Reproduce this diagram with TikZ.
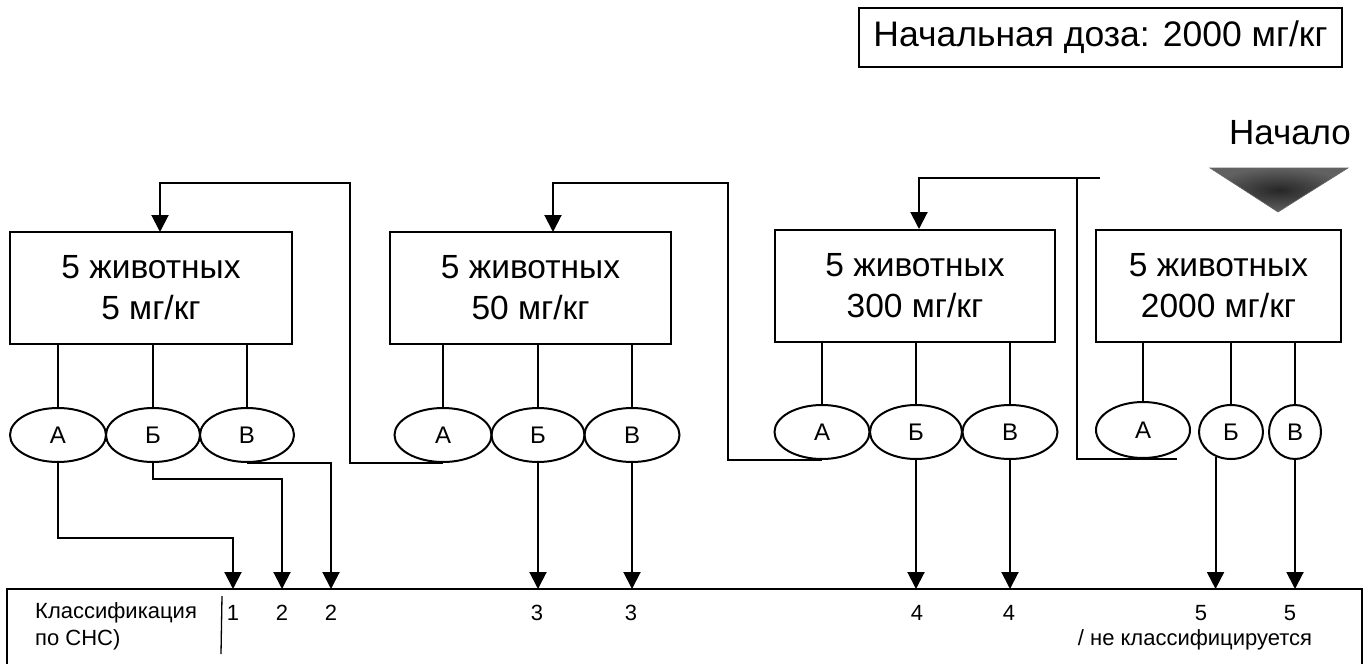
\documentclass[tikz,border=0pt]{standalone}
\usepackage{fontspec}
\setmainfont{Liberation Sans}
\usetikzlibrary{shapes.geometric,arrows.meta,calc}
\begin{document}
\begin{tikzpicture}[x=1pt,y=-1pt,
  ln/.style={line width=2pt, draw=black},
  arr/.style={ln, -{Triangle[width=17pt,length=17pt]}},
  dosebox/.style={draw, line width=2pt, minimum width=#1, minimum height=112pt, inner sep=0pt, align=center, font=\fontsize{33.5}{41}\selectfont},
  ell/.style={draw, ellipse, line width=2pt, inner sep=0pt, minimum height=54pt, font=\fontsize{24}{28}\selectfont},
  lbl/.style={font=\fontsize{22}{26}\selectfont, inner sep=0pt},
]
\useasboundingbox (0,0) rectangle (1366,664);

% top box and start marker
\node[draw, line width=2pt, minimum width=483pt, minimum height=59pt, inner sep=0pt, font=\fontsize{35.5}{40}\selectfont] (dose) at (1100.5,37.5) {Начальная доза: 2000 мг/кг};
\node[font=\fontsize{35}{40}\selectfont, inner sep=0pt] (beg) at (1290,133) {Начало};
\shade[inner color=black!85, outer color=black!62, draw=black!60, line width=0.6pt] (1210,168) -- (1348,168) -- (1278,212) -- cycle;

% dose boxes
\node[dosebox=282pt] (bx1) at (151,288) {5 животных\\5 мг/кг};
\node[dosebox=281pt] (bx2) at (530.5,288) {5 животных\\50 мг/кг};
\node[dosebox=280pt] (bx3) at (915,286) {5 животных\\300 мг/кг};
\node[dosebox=245pt] (bx4) at (1218.5,285.5) {5 животных\\2000 мг/кг};

% outcome ellipses
\node[ell, minimum width=96pt] (A1) at (58,435) {А};
\node[ell, minimum width=94pt] (B1) at (153,435) {Б};
\node[ell, minimum width=94pt] (V1) at (247,435) {В};
\node[ell, minimum width=97pt] (A2) at (443,435) {А};
\node[ell, minimum width=93pt] (B2) at (538,435) {Б};
\node[ell, minimum width=95pt] (V2) at (632,435) {В};
\node[ell, minimum width=95pt] (A3) at (822,432) {А};
\node[ell, minimum width=92pt] (B3) at (916,432) {Б};
\node[ell, minimum width=95pt] (V3) at (1010,432) {В};
\node[ell, minimum width=94pt, minimum height=56pt] (A4) at (1143,430) {А};
\node[ell, minimum width=64pt] (B4) at (1231,432) {Б};
\node[ell, minimum width=52pt] (V4) at (1295,432) {В};

% box to ellipse lines
\foreach \b/\e in {bx1/A1,bx1/B1,bx1/V1,bx2/A2,bx2/B2,bx2/V2,bx3/A3,bx3/B3,bx3/V3,bx4/A4,bx4/B4,bx4/V4}
  \draw[ln] (\e.north |- \b.south) -- (\e.north);

% classification bar
\coordinate (bartop) at (0,589);
\draw[ln] (7,680) -- (7,589) -- (1362,589) -- (1362,680);
\node[lbl, anchor=west] (cl1) at (35,613) {Классификация};
\node[lbl, anchor=west] (cl2) at (35,640) {по СНС)};
\draw[line width=1.3pt] (222,596) -- (221,654);
\coordinate (c1) at (233,589);
\coordinate (c2) at (282,589);
\coordinate (c3) at (331,589);
\node[lbl] (n1) at (233,613) {1};
\node[lbl] (n2) at (282,613) {2};
\node[lbl] (n3) at (331,613) {2};
\node[lbl] (n4) at (537,613) {3};
\node[lbl] (n5) at (631,613) {3};
\node[lbl] (n6) at (917,613) {4};
\node[lbl] (n7) at (1009,613) {4};
\node[lbl] (n8) at (1201,613) {5};
\node[lbl] (n9) at (1290,613) {5};
\node[lbl] (nc) at (1195,640) {/ не классифицируется};

% arrows to classification
\draw[arr] (A1.south) -- ++(0,75) -| (c1);
\draw[arr] (B1.south) -- ++(0,16) -| (c2);
\draw[arr] (V1.south) -| (c3);
\draw[arr] (B2.south) -- (B2.south |- bartop);
\draw[arr] (V2.south) -- (V2.south |- bartop);
\draw[arr] (B3.south) -- (B3.south |- bartop);
\draw[arr] (V3.south) -- (V3.south |- bartop);
\draw[arr] (B4.238) -- (B4.238 |- bartop);
\draw[arr] (V4.south) -- (V4.south |- bartop);

% arrows back to lower doses
\coordinate (in1) at (160,232);
\coordinate (in2) at (553,232);
\coordinate (in3) at (919,229);
\draw[arr] (A2.south) -| (350,183) -| (in1);
\draw[arr] (A3.south) -| (728,183) -| (in2);
\draw[arr] (A4.south) -| (1077,178) -| (in3);
\draw[ln] (A4.south) -- ++(34,0);
\draw[ln] (1077,178) -- ++(23,0);
\end{tikzpicture}
\end{document}
